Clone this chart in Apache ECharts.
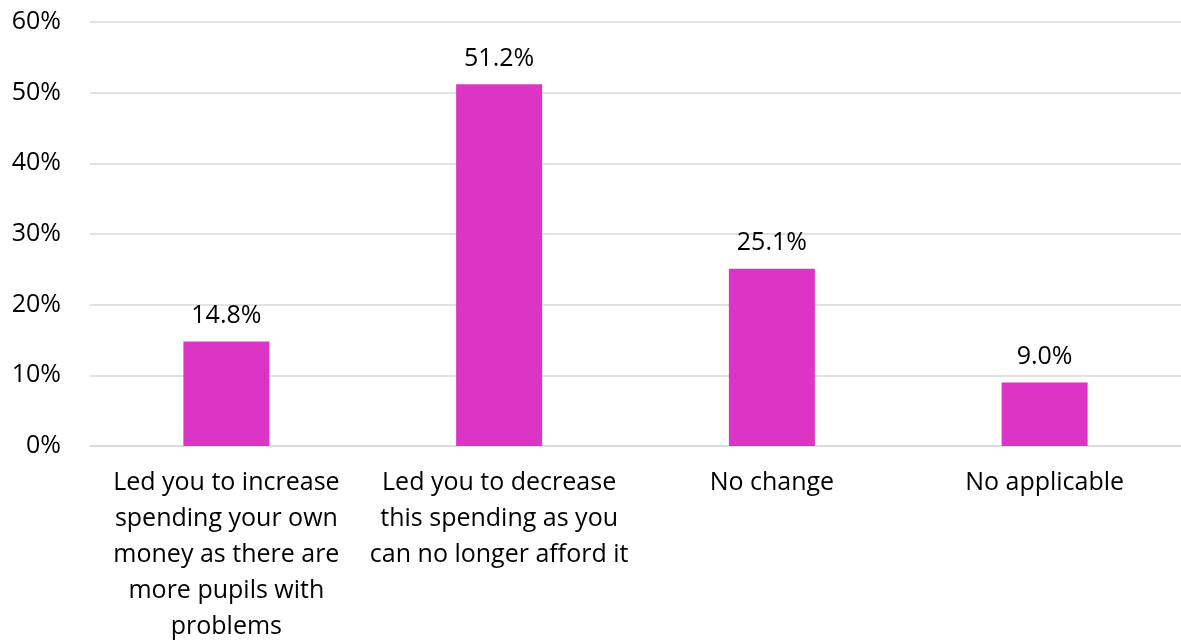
<!DOCTYPE html>
<html lang="en">
<head>
    <meta charset="utf-8">
    <title>Spending chart</title>
    <script src="https://cdn.jsdelivr.net/npm/echarts@6/dist/echarts.min.js"></script>
    <style>
        html, body { margin: 0; padding: 0; background: #fff; }
        #main { width: 1181px; height: 641px; }
    </style>
</head>
<body>
<div id="main"></div>
<script type="text/javascript">
    // categories (line breaks as in the source chart)
    var categories = [
        'Led you to increase\nspending your own\nmoney as there are\nmore pupils with\nproblems',
        'Led you to decrease\nthis spending as you\ncan no longer afford it',
        'No change',
        'No applicable'
    ];
    var values = [14.8, 51.2, 25.1, 9.0];
    var yTicks = [0, 10, 20, 30, 40, 50, 60];

    var fontFamily = '"Open Sans", sans-serif';
    var myChart = echarts.init(document.getElementById('main'));
    myChart.setOption({
        animation: false,
        grid: { left: 90, right: 0, top: 22, bottom: 195, outerBoundsMode: 'none' },
        xAxis: {
            type: 'category',
            data: categories,
            axisLine: { lineStyle: { color: '#d9d9d9', width: 1.5 } },
            axisTick: { show: false },
            axisLabel: {
                interval: 0,
                margin: 19,
                color: '#000',
                fontSize: 25,
                lineHeight: 36,
                fontFamily: fontFamily,
                align: 'center'
            }
        },
        yAxis: {
            type: 'value',
            min: yTicks[0],
            max: yTicks[yTicks.length - 1],
            interval: 10,
            axisLine: { show: false },
            axisTick: { show: false },
            splitLine: { lineStyle: { color: '#d9d9d9', width: 1.5 } },
            axisLabel: {
                margin: 29,
                color: '#000',
                fontSize: 25,
                fontFamily: fontFamily,
                formatter: function (v) { return v + '%'; }
            }
        },
        series: [{
            type: 'bar',
            data: values,
            barWidth: 86,
            itemStyle: { color: '#dc34c4' },
            label: {
                show: true,
                position: 'top',
                distance: 13,
                color: '#000',
                fontSize: 25,
                fontFamily: fontFamily,
                formatter: function (p) { return p.value.toFixed(1) + '%'; }
            }
        }]
    });
</script>
</body>
</html>
